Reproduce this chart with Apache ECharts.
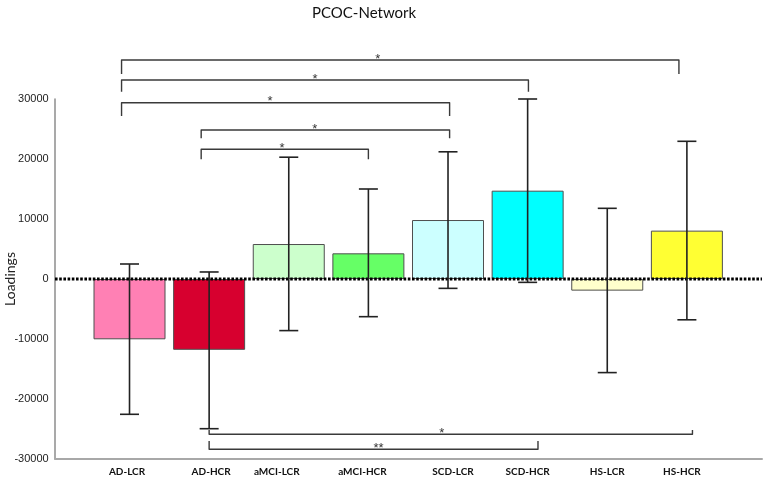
<!DOCTYPE html>
<html>
<head>
<meta charset="utf-8">
<script src="https://cdn.jsdelivr.net/npm/echarts@6/dist/echarts.min.js"></script>
<style>html,body{margin:0;padding:0;background:#fff}#c{width:767px;height:479px}</style>
</head>
<body>
<div id="c"></div>
<script>
// ---- data ----
const categories = ['AD-LCR','AD-HCR','aMCI-LCR','aMCI-HCR','SCD-LCR','SCD-HCR','HS-LCR','HS-HCR'];
const means      = [-10050, -11800, 5830, 4280, 9830, 14720, -1940, 8060];
const errLow     = [-22550, -24950, -8600, -6280, -1560, -560, -15600, -6800];
const errHigh    = [2500, 1170, 20300, 15000, 21200, 30000, 11780, 22950];
const barColors  = ['#FF80B4','#D7002F','#CCFFCC','#66FF66','#CCFFFF','#00FFFF','#FFFFCC','#FFFF33'];
const yTicks     = [-30000, -20000, -10000, 0, 10000, 20000, 30000];
// significance brackets (positions in category units, heights in axis units)
const sigFrom    = [-0.1, -0.1, -0.1, 0.9, 0.9, 1.0, 1.0];
const sigTo      = [6.9, 5.01, 4.02, 4.02, 3.0, 7.07, 5.13];
const sigLevel   = [36500, 33170, 29380, 24830, 21620, -25880, -28380];
const sigTip     = [34170, 31220, 27170, 23450, 19950, -25170, -27000];
const sigMark    = ['*','*','*','*','*','*','**'];
const sigMarkPos = [3.118, 2.33, 1.765, 2.327, 1.916, 3.922, 3.128];
const zeroValue  = 0;

// label horizontal nudges (style only, px)
const labelNudge = [-2.5, 2, -12, -6, 5, 0, 0, -5];

const chart = echarts.init(document.getElementById('c'), null, {renderer:'canvas'});
const yMin = yTicks[0], yMax = yTicks[yTicks.length-1];

const rich = {};
labelNudge.forEach((d, i) => {
  rich['s' + i] = {fontFamily: 'Lato', fontSize: 10, fontWeight: 'bold', color: '#111',
                   padding: d >= 0 ? [0, 0, 0, 2 * d] : [0, -2 * d, 0, 0]};
});

const option = {
  animation: false,
  backgroundColor: '#fff',
  title: {
    text: 'PCOC-Network', left: 307, top: 1,
    textStyle: {fontFamily: 'Lato', fontSize: 15, fontWeight: 'normal', color: '#111'}
  },
  grid: [
    {left: 89.7, right: 40.3, top: 99, bottom: 20, containLabel: false, outerBoundsMode: 'none'},
    {left: 55, right: 5, top: 99, bottom: 20, containLabel: false, outerBoundsMode: 'none'}
  ],
  xAxis: [
    {type: 'category', gridIndex: 0, data: categories,
     axisLine: {show: false}, axisTick: {show: false},
     axisLabel: {interval: 0, hideOverlap: false, margin: 8,
                 formatter: (v, i) => '{s' + i + '|' + v + '}', rich: rich}},
    {type: 'value', gridIndex: 1, min: 0, max: 1,
     axisLine: {show: true, onZero: false, lineStyle: {color: '#a8a8a8', width: 2}},
     axisTick: {show: false}, axisLabel: {show: false}, splitLine: {show: false}}
  ],
  yAxis: [
    {type: 'value', gridIndex: 0, min: yMin, max: yMax, interval: 10000, offset: 35,
     name: 'Loadings', nameLocation: 'middle', nameGap: 37.5, nameMoveOverlap: false,
     nameTextStyle: {fontFamily: 'Lato', fontSize: 14, color: '#222'},
     axisLine: {show: true, onZero: false, lineStyle: {color: '#8c8c8c', width: 1.5}},
     axisTick: {show: false}, splitLine: {show: false},
     axisLabel: {margin: 6, fontFamily: 'Liberation Sans', fontSize: 11, color: '#222',
                 formatter: v => String(v)}},
    {type: 'value', gridIndex: 1, min: yMin, max: yMax, show: false}
  ],
  series: [
    {type: 'bar', xAxisIndex: 0, yAxisIndex: 0, barWidth: 72, z: 2,
     data: means.map((v, i) => ({value: v, itemStyle: {color: barColors[i], borderColor: '#4f4f4f', borderWidth: 1}}))},
    {type: 'custom', xAxisIndex: 1, yAxisIndex: 1, z: 3, silent: true,
     data: [[0, zeroValue]],
     renderItem: function (params, api) {
       const a = api.coord([0, zeroValue]), b = api.coord([1, zeroValue]);
       return {type: 'line', shape: {x1: a[0], y1: a[1], x2: b[0], y2: b[1]},
               style: {stroke: '#000', lineWidth: 3, lineDash: [2.6, 1.6]}};
     }},
    {type: 'custom', xAxisIndex: 0, yAxisIndex: 0, z: 4, silent: true,
     data: categories.map((c, i) => [c, errLow[i], errHigh[i]]),
     renderItem: function (params, api) {
       const lo = api.coord([api.value(0), api.value(1)]);
       const hi = api.coord([api.value(0), api.value(2)]);
       const hw = 9.5, st = {stroke: '#222', lineWidth: 1.6};
       return {type: 'group', children: [
         {type: 'line', shape: {x1: lo[0], y1: lo[1], x2: hi[0], y2: hi[1]}, style: st},
         {type: 'line', shape: {x1: lo[0]-hw, y1: lo[1], x2: lo[0]+hw, y2: lo[1]}, style: st},
         {type: 'line', shape: {x1: hi[0]-hw, y1: hi[1], x2: hi[0]+hw, y2: hi[1]}, style: st}
       ]};
     }},
    {type: 'custom', xAxisIndex: 0, yAxisIndex: 0, z: 5, silent: true, clip: false,
     data: [[categories[0], 0]],
     renderItem: function (params, api) {
       const p0 = api.coord([0, 0]), p1 = api.coord([1, 0]);
       const band = p1[0] - p0[0];
       const X = pos => p0[0] + pos * band;
       const children = [];
       sigFrom.forEach((f, k) => {
         const yl = api.coord([0, sigLevel[k]])[1];
         const yt = api.coord([0, sigTip[k]])[1];
         const x1 = X(f), x2 = X(sigTo[k]);
         children.push({type: 'polyline', shape: {points: [[x1, yt], [x1, yl], [x2, yl], [x2, yt]]},
           style: {stroke: '#3a3a3a', lineWidth: 1.4, fill: null, lineJoin: 'round'}});
         children.push({type: 'text', x: X(sigMarkPos[k]), y: yl + 5.5,
           style: {text: sigMark[k], fontFamily: 'Liberation Sans', fontSize: 13, fill: '#333',
                   align: 'center', verticalAlign: 'bottom'}});
       });
       return {type: 'group', children: children};
     }}
  ]
};
chart.setOption(option);
</script>
</body>
</html>
